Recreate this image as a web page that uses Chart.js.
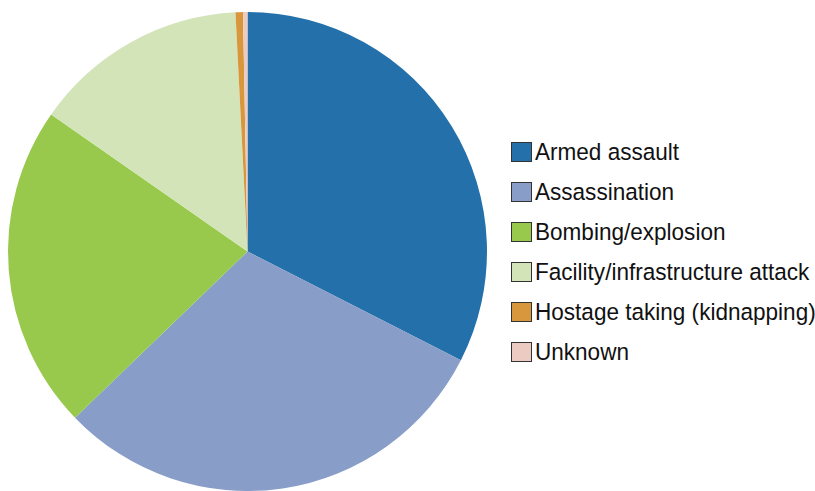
<!DOCTYPE html>
<html>
<head>
<meta charset="utf-8">
<script src="https://cdn.jsdelivr.net/npm/chart.js@4/dist/chart.umd.min.js"></script>
<style>
  html, body { margin: 0; padding: 0; background: #fff; }
  #wrap { position: relative; width: 815px; height: 491px; overflow: hidden; }
  #pie { position: absolute; left: 0; top: 0; }
  #legend { position: absolute; left: 511px; top: 142px; margin: 0; padding: 0; list-style: none;
            font-family: "Liberation Sans", Arial, sans-serif;
            font-size: 24.5px; color: #111; }
  #legend li { height: 40px; display: flex; align-items: flex-start; white-space: nowrap; }
  #legend .box { width: 19px; height: 18px; border: 1px solid #333; margin-right: 3px; flex: none; }
  #legend .txt { display: inline-block; line-height: 20px; transform: scaleX(0.92); transform-origin: 0 50%; }
</style>
</head>
<body>
<div id="wrap">
  <canvas id="pie" width="495" height="491"></canvas>
  <ul id="legend"></ul>
</div>
<script>
// Attack types and their share of incidents (%)
const categories = [
  "Armed assault",
  "Assassination",
  "Bombing/explosion",
  "Facility/infrastructure attack",
  "Hostage taking (kidnapping)",
  "Unknown"
];
const shares = [32.5, 30.3, 21.9, 14.5, 0.5, 0.3];
const sliceColors = ["#2470aa", "#889dc7", "#98c94d", "#d3e5b8", "#d8963d", "#ecccc2"];

new Chart(document.getElementById("pie"), {
  type: "pie",
  data: {
    labels: categories,
    datasets: [{
      data: shares,
      backgroundColor: sliceColors,
      borderWidth: 0,
      hoverOffset: 0
    }]
  },
  options: {
    responsive: false,
    animation: false,
    rotation: 0,
    layout: { padding: { top: 12, bottom: 0, left: 0, right: 0 } },
    plugins: {
      legend: { display: false },
      tooltip: { enabled: false }
    }
  }
});

// Legend list built from the same categories and colours
const legend = document.getElementById("legend");
categories.forEach((name, i) => {
  const li = document.createElement("li");
  const box = document.createElement("span");
  box.className = "box";
  box.style.background = sliceColors[i];
  const txt = document.createElement("span");
  txt.className = "txt";
  txt.textContent = name;
  li.appendChild(box);
  li.appendChild(txt);
  legend.appendChild(li);
});
</script>
</body>
</html>
